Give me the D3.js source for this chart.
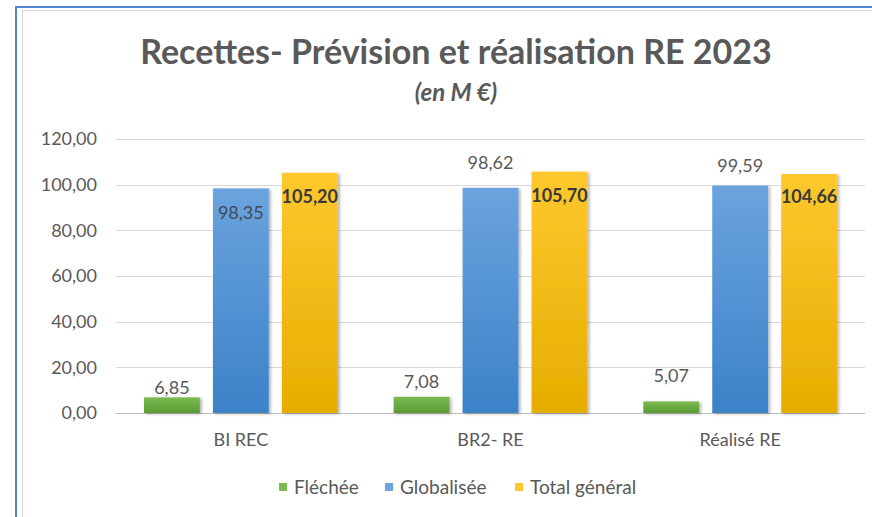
<!DOCTYPE html>
<html>
<head>
<meta charset="utf-8">
<script src="https://cdn.jsdelivr.net/npm/d3@7"></script>
<style>
  body { margin: 0; background: #fff; }
  text { font-family: Lato, "Open Sans", sans-serif; }
</style>
</head>
<body>
<svg class="chart"></svg>
<script>
let categories = ['BI REC', 'BR2- RE', 'Réalisé RE']
let seriesNames = ['Fléchée', 'Globalisée', 'Total général']
let flechee = [6.85, 7.08, 5.07]
let globalisee = [98.35, 98.62, 99.59]
let totalGeneral = [105.20, 105.70, 104.66]
let yTicks = [0, 20, 40, 60, 80, 100, 120]

// where each data label sits: 'out' above the bar, 'in' just under its top
let labelPlace = [
  ['out', 'out', 'out'],
  ['in', 'out', 'out'],
  ['in', 'in', 'in']
]
let labelGap = [
  [10, 15, 26],
  [24, 25, 20],
  [24, 24, 23]
]

let colorGroup = [
  ['#7aba4f', '#5b9b34'],
  ['#6ba3de', '#3b82c8'],
  ['#ffc82e', '#e6ad00']
]

let series = [flechee, globalisee, totalGeneral]

let svg_width = 872
let svg_height = 517

let svg = d3.select('.chart')
  .attr('width', svg_width)
  .attr('height', svg_height)

let frDec = d3.formatLocale({ decimal: ',', thousands: ' ', grouping: [3], currency: ['', ' €'] }).format('.2f')

// gradients + shadow
let defs = svg.append('defs')
colorGroup.forEach((c, i) => {
  let g = defs.append('linearGradient')
    .attr('id', 'grad' + i)
    .attr('x1', 0).attr('y1', 0).attr('x2', 0).attr('y2', 1)
  g.append('stop').attr('offset', '0%').attr('stop-color', c[0])
  g.append('stop').attr('offset', '100%').attr('stop-color', c[1])
})
defs.append('filter')
  .attr('id', 'shadow')
  .attr('x', '-20%').attr('y', '-20%').attr('width', '140%').attr('height', '140%')
  .append('feDropShadow')
  .attr('dx', 2).attr('dy', 1)
  .attr('stdDeviation', 1.5)
  .attr('flood-color', '#000')
  .attr('flood-opacity', 0.3)

// sheet frame
svg.append('line')
  .attr('x1', 22.5).attr('y1', 10).attr('x2', 22.5).attr('y2', svg_height)
  .attr('stroke', '#d9d9d9')
svg.append('line')
  .attr('x1', 22).attr('y1', 10.5).attr('x2', svg_width).attr('y2', 10.5)
  .attr('stroke', '#d9d9d9')
svg.append('line')
  .attr('x1', 16).attr('y1', 6).attr('x2', 16).attr('y2', svg_height)
  .attr('stroke', '#4f85cc').attr('stroke-width', 2)
svg.append('line')
  .attr('x1', 15).attr('y1', 7).attr('x2', svg_width).attr('y2', 7)
  .attr('stroke', '#4f85cc').attr('stroke-width', 2)

// titles
svg.append('text')
  .text('Recettes- Prévision et réalisation RE 2023')
  .attr('x', 456).attr('y', 64)
  .attr('text-anchor', 'middle')
  .attr('font-size', 34)
  .attr('font-weight', 'bold')
  .attr('fill', '#595959')

svg.append('text')
  .text('(en M €)')
  .attr('x', 456).attr('y', 101)
  .attr('text-anchor', 'middle')
  .attr('font-size', 24)
  .attr('font-weight', 'bold')
  .attr('font-style', 'italic')
  .attr('fill', '#595959')

//scales
let scaleX = d3.scaleBand()
  .domain(categories)
  .range([116, 865])
  .paddingInner(0.224)
  .paddingOuter(0.112)

let scaleX2 = d3.scaleBand()
  .domain(d3.range(seriesNames.length))
  .range([0, scaleX.bandwidth()])
  .paddingInner(0.19)

let scaleY = d3.scaleLinear()
  .domain([0, 120])
  .range([413, 139])

// grid
svg.append('g')
  .selectAll('line')
  .data(yTicks)
  .enter()
  .append('line')
  .attr('x1', 116).attr('x2', 865)
  .attr('y1', d => Math.round(scaleY(d)) + 0.5)
  .attr('y2', d => Math.round(scaleY(d)) + 0.5)
  .attr('stroke', d => d === 0 ? '#bfbfbf' : '#d9d9d9')

//axis
let axisY = d3.axisLeft(scaleY)
  .tickValues(yTicks)
  .tickSize(0)
  .tickPadding(19)
  .tickFormat(frDec)

svg.append('g')
  .attr('transform', translate(116, 0))
  .call(axisY)
  .call(g => g.select('.domain').remove())
  .call(g => g.selectAll('text').attr('font-size', 18).attr('fill', '#595959').style('font-family', 'Lato'))

let axisX = d3.axisBottom(scaleX)
  .tickSize(0)
  .tickPadding(20)

svg.append('g')
  .attr('transform', translate(0, 413))
  .call(axisX)
  .call(g => g.select('.domain').remove())
  .call(g => g.selectAll('text').attr('font-size', 18).attr('fill', '#595959').style('font-family', 'Lato'))

// bars
let groups = svg.append('g')
  .selectAll('g')
  .data(categories)
  .enter()
  .append('g')
  .attr('transform', d => translate(scaleX(d), 0))

groups.selectAll('rect')
  .data((c, ci) => series.map((s, si) => ({ si: si, ci: ci, v: s[ci] })))
  .enter()
  .append('rect')
  .attr('x', d => scaleX2(d.si))
  .attr('y', d => scaleY(d.v))
  .attr('width', scaleX2.bandwidth())
  .attr('height', d => scaleY(0) - scaleY(d.v))
  .attr('fill', d => 'url(#grad' + d.si + ')')
  .attr('filter', 'url(#shadow)')

//labels
groups.selectAll('text.lbl')
  .data((c, ci) => series.map((s, si) => ({ si: si, ci: ci, v: s[ci] })))
  .enter()
  .append('text')
  .attr('class', 'lbl')
  .text(d => frDec(d.v))
  .attr('x', d => scaleX2(d.si) + scaleX2.bandwidth() / 2)
  .attr('y', d => {
    let gap = labelGap[d.si][d.ci]
    return labelPlace[d.si][d.ci] === 'out' ? scaleY(d.v) - gap : scaleY(d.v) + gap
  })
  .attr('dy', '0.35em')
  .attr('text-anchor', 'middle')
  .attr('font-size', 18)
  .attr('font-weight', d => d.si === 2 ? 'bold' : 'normal')
  .attr('fill', d => d.si === 2 ? '#3a3a3a' : (labelPlace[d.si][d.ci] === 'in' ? '#3f4a57' : '#595959'))

// legend
let legendX = [279, 385, 515]
let legend = svg.append('g')
  .selectAll('g')
  .data(seriesNames)
  .enter()
  .append('g')
  .attr('transform', (d, i) => translate(legendX[i], 487))

legend.append('rect')
  .attr('x', 0).attr('y', -4)
  .attr('width', 8).attr('height', 8)
  .attr('fill', (d, i) => colorGroup[i][0])

legend.append('text')
  .text(d => d)
  .attr('x', 15)
  .attr('dy', '0.35em')
  .attr('font-size', 19)
  .attr('fill', '#595959')

function translate(x, y) {
  return 'translate(' + x + ',' + y + ')';
}
</script>
</body>
</html>
